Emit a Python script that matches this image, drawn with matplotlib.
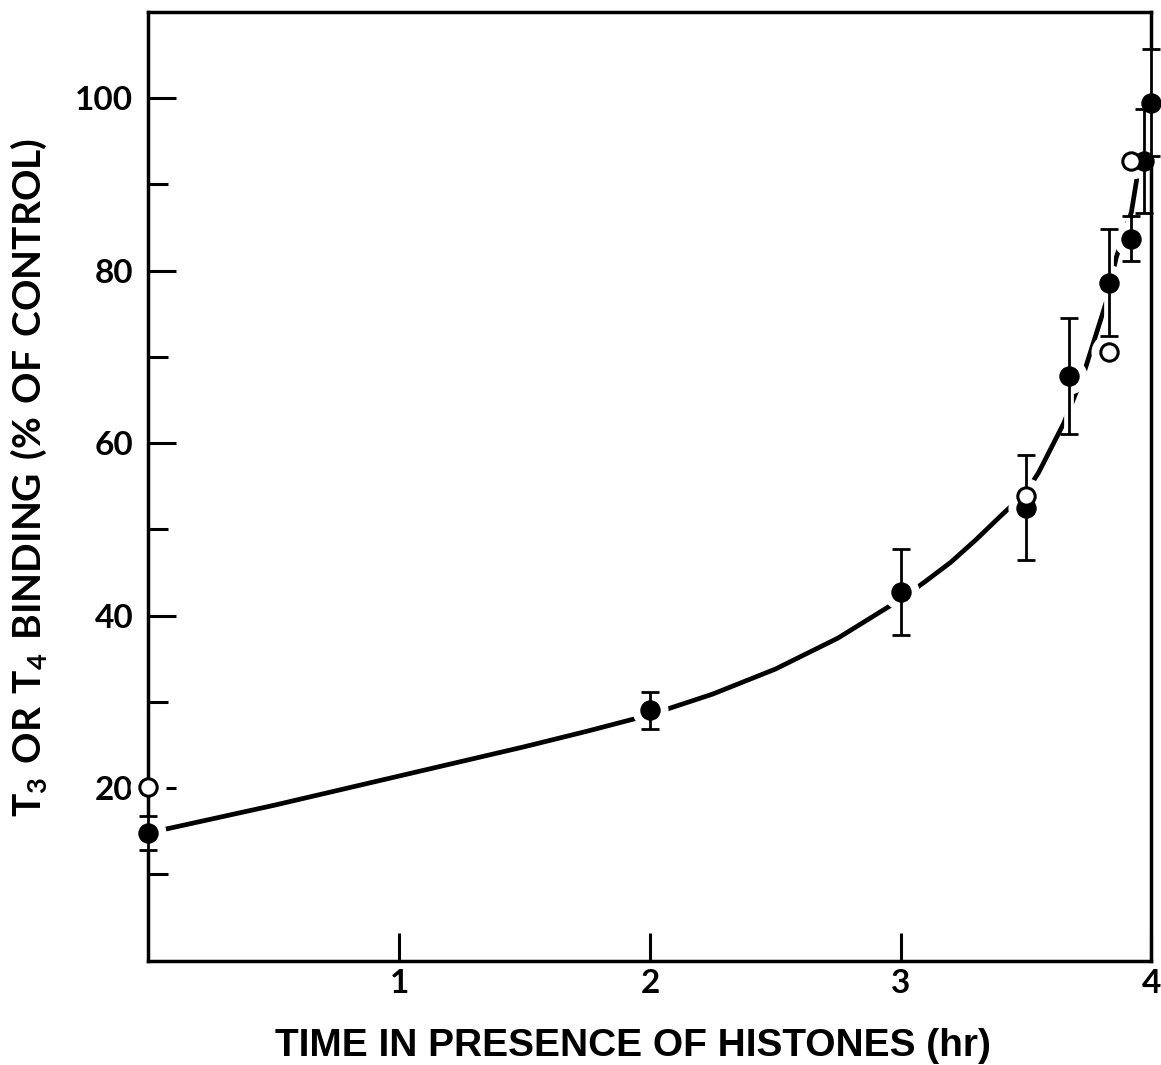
import matplotlib
matplotlib.use("Agg")
import matplotlib.pyplot as plt
import matplotlib.patheffects as pe

# binding measurements, mean +/- error
filled_hr = [0.0, 2.0, 3.0, 3.5, 3.67, 3.83, 3.92, 3.97, 4.0]
filled_pct = [14.8, 29.0, 42.7, 52.5, 67.8, 78.6, 83.7, 92.7, 99.5]
filled_err = [2.0, 2.1, 5.0, 6.1, 6.7, 6.2, 2.6, 6.0, 6.2]

# single determinations (open symbols)
open_hr = [0.0, 3.5, 3.83, 3.92]
open_pct = [20.1, 53.9, 70.6, 92.7]

# hand-fitted curve
curve_hr = [0.0, 0.25, 0.5, 0.75, 1.0, 1.25, 1.5, 1.75, 2.0, 2.25, 2.5, 2.75,
            3.0, 3.1, 3.2, 3.3, 3.4, 3.5, 3.55, 3.65, 3.73, 3.82, 3.86, 3.92,
            3.94, 3.96, 3.99, 4.0]
curve_pct = [14.8, 16.4, 18.0, 19.7, 21.4, 23.1, 24.8, 26.6, 28.5, 30.9, 33.8,
             37.4, 41.9, 44.0, 46.2, 48.8, 51.6, 54.3, 56.6, 62.3, 68.1, 76.4,
             81.6, 86.8, 90.4, 94.4, 98.1, 99.5]

xticks = [1, 2, 3, 4]
yticks = [20, 40, 60, 80, 100]
yminor = [10, 30, 50, 70, 90]

plt.rcParams['font.family'] = ['Lato', 'DejaVu Sans']
plt.rcParams['font.weight'] = 'bold'
plt.rcParams['mathtext.fontset'] = 'custom'
plt.rcParams['mathtext.bf'] = 'Lato:bold'
plt.rcParams['mathtext.rm'] = 'Lato:bold'

fig = plt.figure(figsize=(11.61, 10.65), dpi=100)
ax = fig.add_axes([0.1279, 0.0981, 0.8639, 0.8906])

ax.plot(curve_hr, curve_pct, color='black', lw=3.4, solid_capstyle='round',
        solid_joinstyle='round', zorder=2)

# white halos break the curve around the symbols
allx = filled_hr + open_hr
ally = filled_pct + open_pct
ax.plot(allx, ally, 'o', ms=25, mfc='white', mec='white', ls='none', zorder=2.2, clip_on=False)

halo = [pe.withStroke(linewidth=7, foreground='white')]
eb = ax.errorbar(filled_hr, filled_pct, yerr=filled_err, fmt='none', ecolor='black',
                 elinewidth=2.0, capsize=6.8, capthick=2.0, zorder=3, clip_on=False)
for art in eb.lines[2]:
    art.set_path_effects(halo)
    art.set_clip_on(False)
for art in eb.lines[1]:
    art.set_clip_on(False)

ax.plot(filled_hr, filled_pct, 'o', ms=13.5, mfc='black', mec='black', mew=1.2,
        ls='none', zorder=4, clip_on=False)
ax.plot(open_hr, open_pct, 'o', ms=12.5, mfc='white', mec='black', mew=2.2,
        ls='none', zorder=4, clip_on=False)

ax.set_xlim(0, 4)
ax.set_ylim(0, 110)
ax.set_xticks(xticks)
ax.set_xticklabels([str(t) for t in xticks])
ax.set_yticks(yticks)
ax.set_yticks(yminor, minor=True)
ax.set_yticklabels([str(t) for t in yticks])

ax.tick_params(which='both', direction='in', width=2.2, labelsize=24)
ax.tick_params(axis='y', which='major', length=20, pad=11)
ax.tick_params(axis='y', which='minor', length=14.5)
ax.tick_params(axis='x', which='major', length=20, pad=6)
for s in ax.spines.values():
    s.set_linewidth(2.5)

ax.set_xlabel('TIME IN PRESENCE OF HISTONES (hr)', fontsize=28,
              family=['Liberation Sans', 'DejaVu Sans'], fontweight='bold',
              labelpad=22)
ax.xaxis.label.set_x(0.483)
ax.set_ylabel(r'$\mathbf{T_3\ OR\ T_4\ BINDING\ (\%\ OF\ CONTROL)}$',
              fontsize=28, labelpad=19)
ax.yaxis.label.set_y(0.509)

fig.savefig('out.png', dpi=100)
